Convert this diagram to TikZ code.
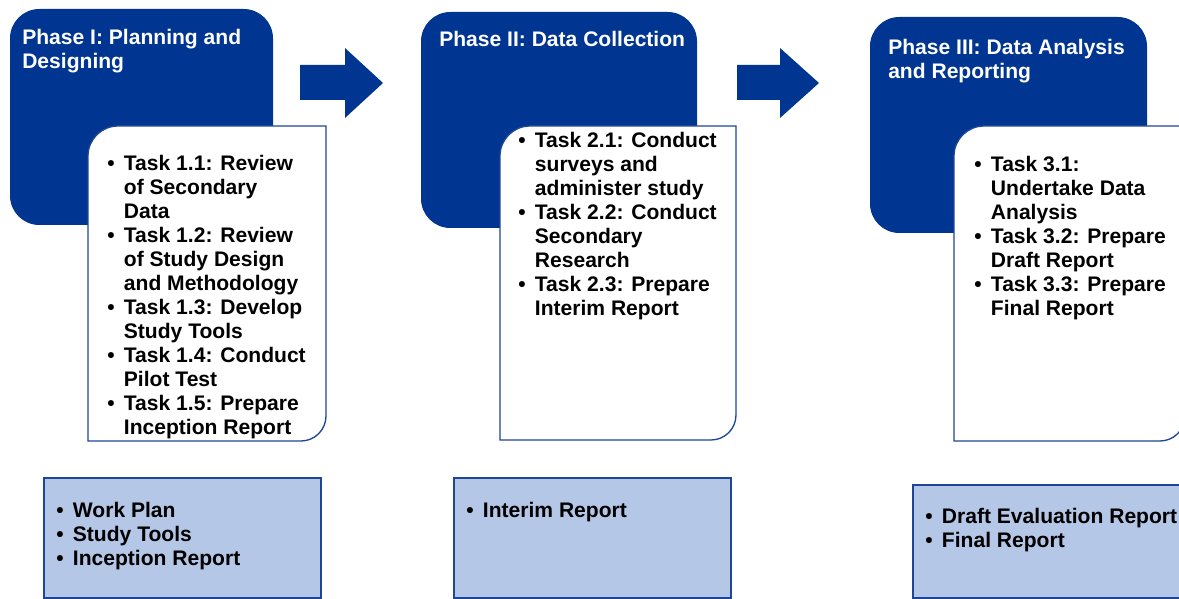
\documentclass[tikz,border=0pt]{standalone}
\usepackage{fontspec}
\setmainfont{Liberation Sans}
\definecolor{phaseblue}{RGB}{0,53,145}
\definecolor{lineblue}{RGB}{30,70,150}
\definecolor{outblue}{RGB}{180,199,231}
\newcommand{\bul}[1]{\makebox[12.5pt][l]{\textbullet}#1}
\newcommand{\cnt}[1]{\hspace*{12.5pt}#1}

\begin{document}
\begin{tikzpicture}[
  x=0.75pt, y=-0.75pt,
  phase_box/.style={fill=phaseblue, rounded corners=22pt},
  task_box/.style={fill=white, draw=lineblue, line width=1pt},
  out_box/.style={fill=outblue, draw=lineblue, line width=1pt},
  step_arrow/.style={fill=phaseblue},
  phase_text/.style={anchor=base west, inner sep=0pt, text=white, font=\fontsize{15.8}{18}\selectfont\bfseries},
  list_text/.style={anchor=base west, inner sep=0pt, font=\fontsize{15.8}{18}\selectfont\bfseries},
]
\useasboundingbox (0,0) rectangle (1179,599);
\clip (0,0) rectangle (1179,599);
% phase I
\fill[phase_box] (10,9) rectangle (273,225);
\draw[task_box] (88,441) -- (88,156) arc[start angle=180, end angle=270, radius=30] -- (326,126) -- (326,416) arc[start angle=0, end angle=90, radius=25] -- cycle;
\draw (22,45) node (ph1) [phase_text] {\begin{tabular}[t]{@{}l@{}}Phase I: Planning and\\Designing\end{tabular}};
\draw (107,171) node (tk1) [list_text] {\begin{tabular}[t]{@{}l@{}}
\bul{Task 1.1: Review}\\ \cnt{of Secondary}\\ \cnt{Data}\\
\bul{Task 1.2: Review}\\ \cnt{of Study Design}\\ \cnt{and Methodology}\\
\bul{Task 1.3: Develop}\\ \cnt{Study Tools}\\
\bul{Task 1.4: Conduct}\\ \cnt{Pilot Test}\\
\bul{Task 1.5: Prepare}\\ \cnt{Inception Report}\end{tabular}};
\fill[step_arrow] (300,65) -- (345,65) -- (345,48) -- (383,83) -- (345,118) -- (345,100) -- (300,100) -- cycle;
% phase II
\fill[phase_box] (421,12) rectangle (697,228);
\draw[task_box] (500,440) -- (500,156) arc[start angle=180, end angle=270, radius=30] -- (736,126) -- (736,415) arc[start angle=0, end angle=90, radius=25] -- cycle;
\draw (439,46.5) node (ph2) [phase_text] {\begin{tabular}[t]{@{}l@{}}Phase II: Data Collection\end{tabular}};
\draw (518,147.5) node (tk2) [list_text] {\begin{tabular}[t]{@{}l@{}}
\bul{Task 2.1: Conduct}\\ \cnt{surveys and}\\ \cnt{administer study}\\
\bul{Task 2.2: Conduct}\\ \cnt{Secondary}\\ \cnt{Research}\\
\bul{Task 2.3: Prepare}\\ \cnt{Interim Report}\end{tabular}};
\fill[step_arrow] (737,65) -- (780,65) -- (780,48) -- (819,83) -- (780,118) -- (780,100) -- (737,100) -- cycle;
% phase III
\fill[phase_box] (870,17) rectangle (1147,233);
\draw[task_box] (954,441) -- (954,156) arc[start angle=180, end angle=270, radius=30] -- (1185,126) -- (1185,416) arc[start angle=0, end angle=90, radius=25] -- cycle;
\draw (888,54.5) node (ph3) [phase_text] {\begin{tabular}[t]{@{}l@{}}Phase III: Data Analysis\\and Reporting\end{tabular}};
\draw (974,171.5) node (tk3) [list_text] {\begin{tabular}[t]{@{}l@{}}
\bul{Task 3.1:}\\ \cnt{Undertake Data}\\ \cnt{Analysis}\\
\bul{Task 3.2: Prepare}\\ \cnt{Draft Report}\\
\bul{Task 3.3: Prepare}\\ \cnt{Final Report}\end{tabular}};
% outputs
\draw[out_box] (44,478) rectangle (321,598);
\draw (56,517) node (out1) [list_text] {\begin{tabular}[t]{@{}l@{}}
\bul{Work Plan}\\ \bul{Study Tools}\\ \bul{Inception Report}\end{tabular}};
\draw[out_box] (454,478) rectangle (731,598);
\draw (466,517) node (out2) [list_text] {\begin{tabular}[t]{@{}l@{}}
\bul{Interim Report}\end{tabular}};
\draw[out_box] (913,485) rectangle (1190,598);
\draw (925,523) node (out3) [list_text] {\begin{tabular}[t]{@{}l@{}}
\bul{Draft Evaluation Report}\\ \bul{Final Report}\end{tabular}};
\end{tikzpicture}
\end{document}
